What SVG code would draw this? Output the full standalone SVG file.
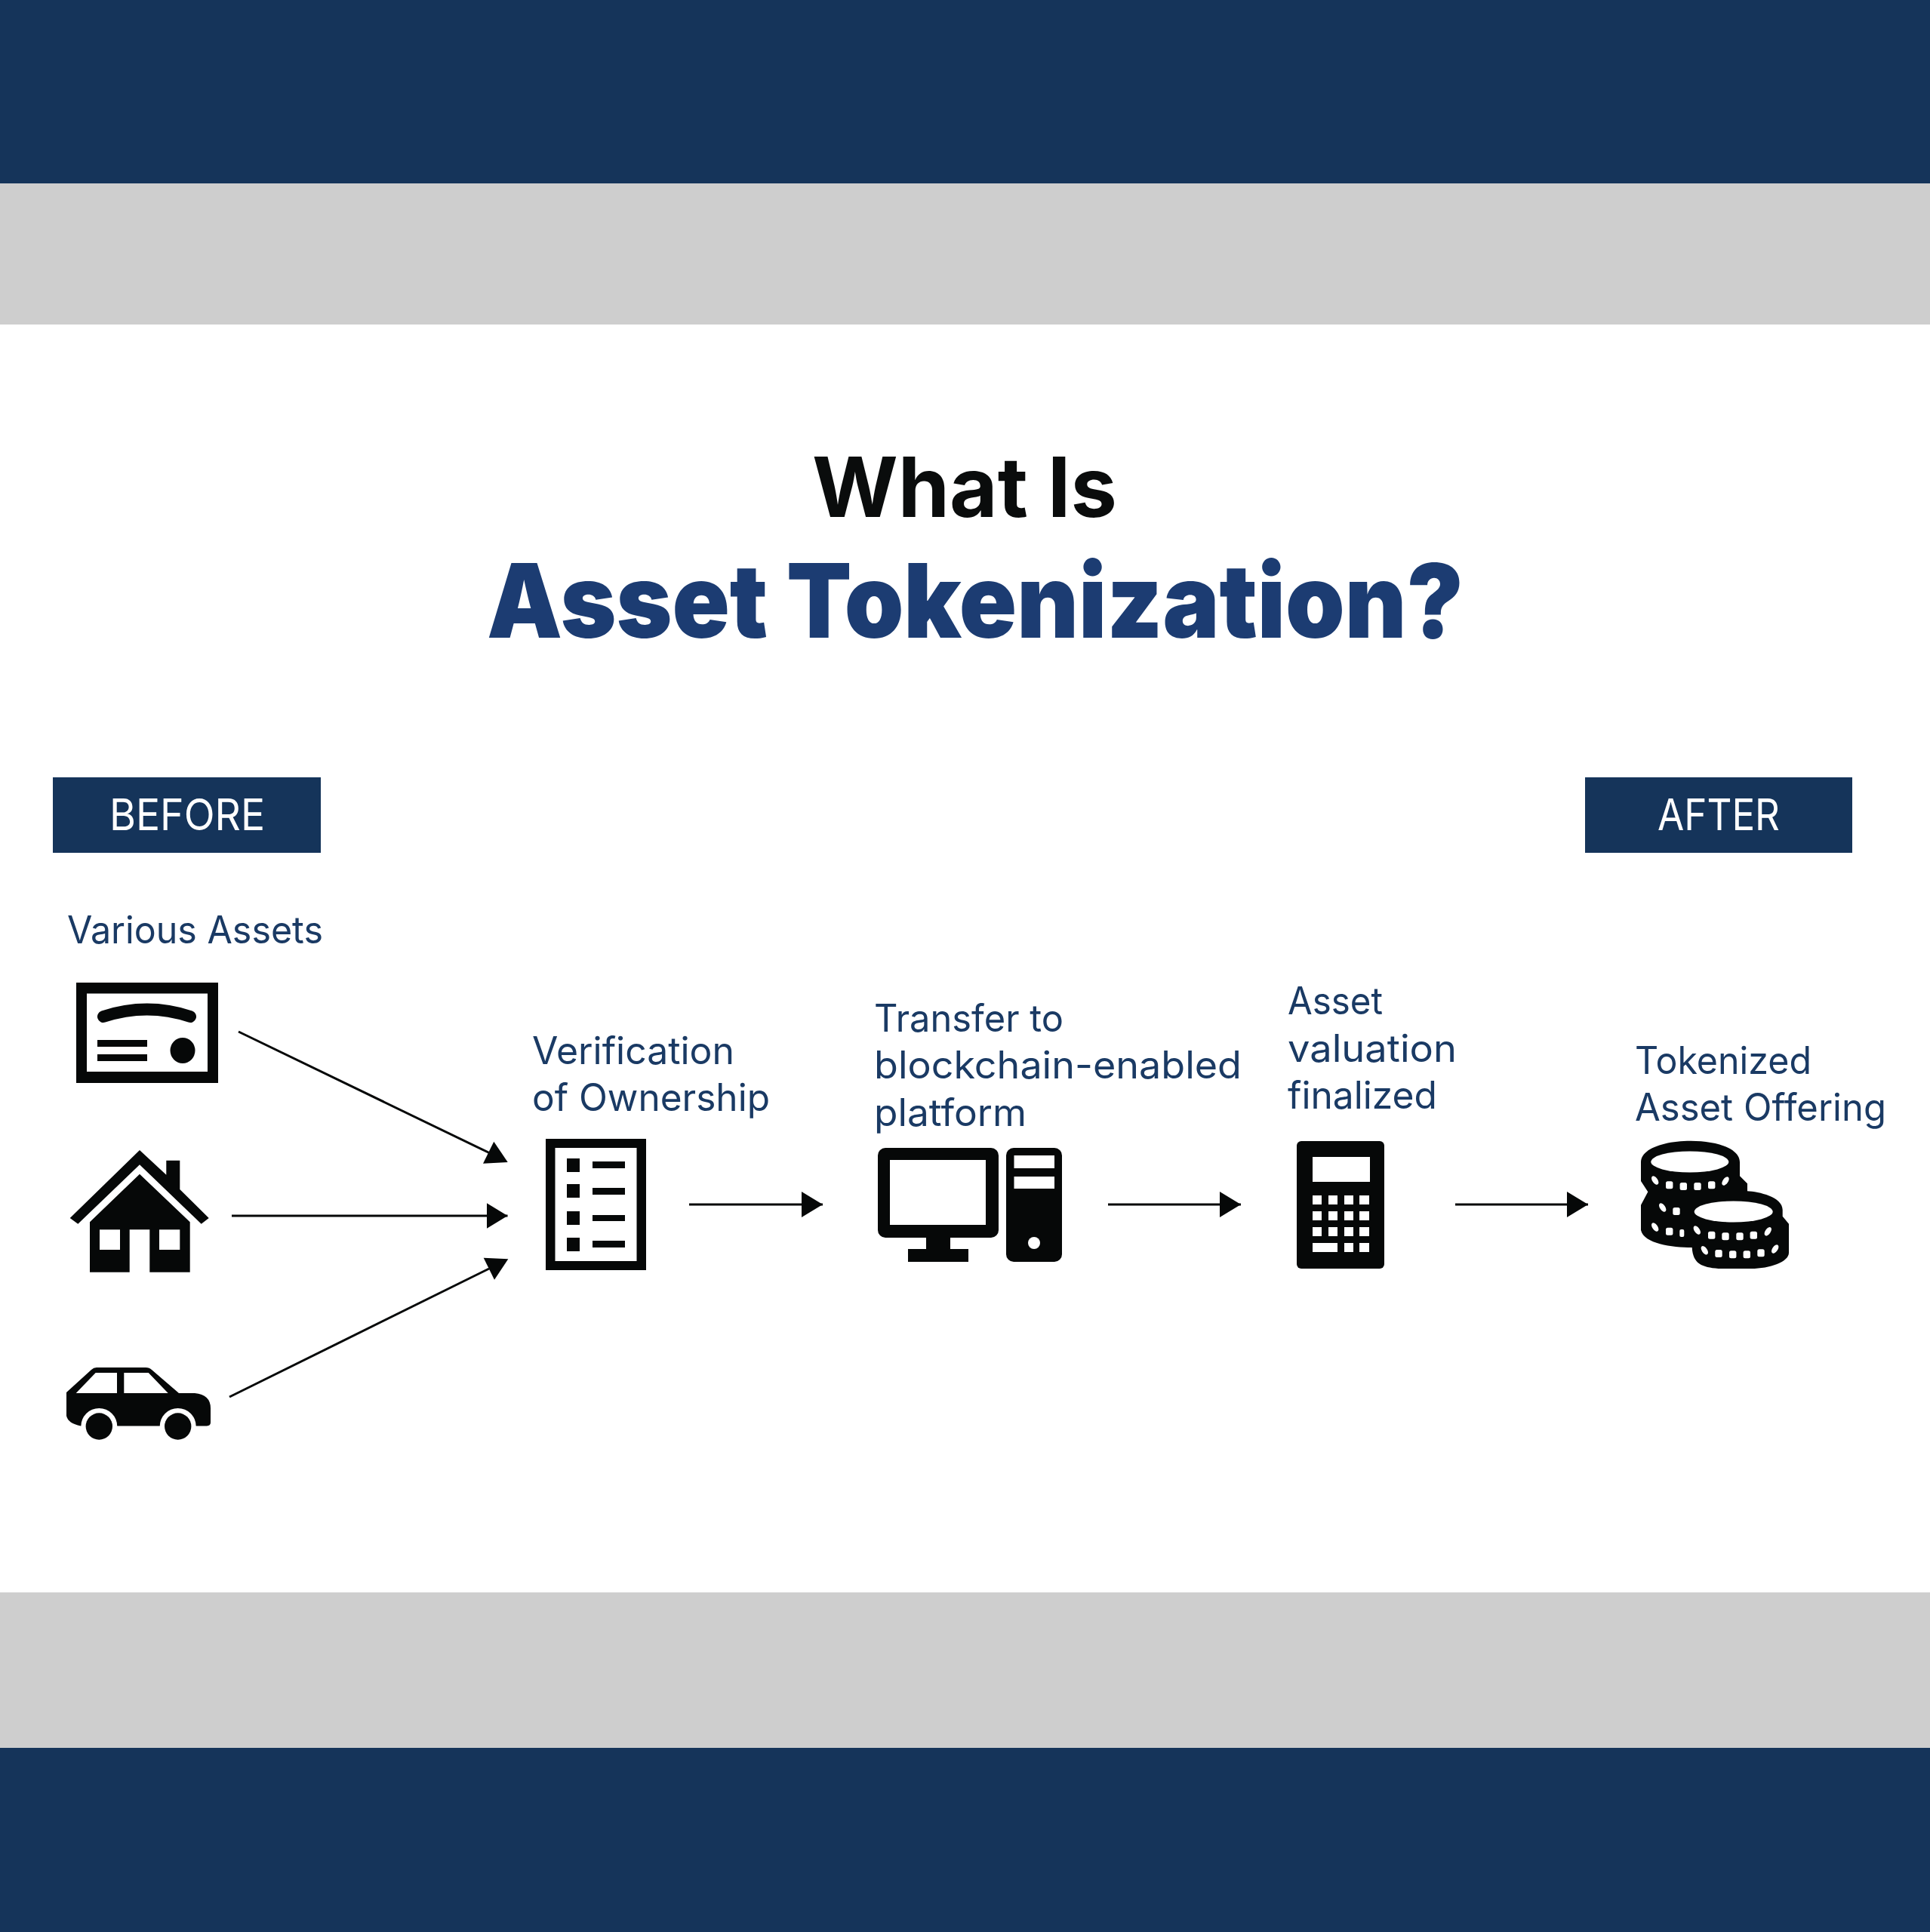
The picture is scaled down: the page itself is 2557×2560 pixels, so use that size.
<svg xmlns="http://www.w3.org/2000/svg" width="2557" height="2560" viewBox="0 0 2557 2560">
<style>
.navy{fill:#15345a}.gray{fill:#cecece}.k{fill:#060808}.w{fill:#fff}
text{font-family:"Inter","Liberation Sans",sans-serif}
.lbl{font-size:50px;fill:#1a3a64;font-weight:400}
.tag{font-size:57px;fill:#fff;font-weight:400}
.ln{stroke:#060808;stroke-width:3;fill:none}
</style>
<defs>
<marker id="ah" markerUnits="userSpaceOnUse" markerWidth="30" markerHeight="36" refX="28" refY="17" orient="auto"><path d="M0 0L28 17L0 34Z" fill="#060808"/></marker>
<rect id="t" x="-4.700" y="-5" width="9.400" height="10" rx="2.500" fill="#fff"/>
<rect id="n" x="-3" y="-5" width="6" height="10" rx="2" fill="#fff"/>
<ellipse id="l" rx="3.500" ry="6.500" transform="rotate(-35)" fill="#fff"/>
<ellipse id="r" rx="3.500" ry="6.500" transform="rotate(35)" fill="#fff"/>
</defs>
<g id="bands">
<rect class="navy" x="0" y="0" width="2557" height="243"/>
<rect class="gray" x="0" y="243" width="2557" height="187"/>
<rect class="gray" x="0" y="2110" width="2557" height="206"/>
<rect class="navy" x="0" y="2316" width="2557" height="244"/>
</g>
<g id="title">
<text x="1076" y="685" font-size="110" font-weight="700" fill="#0a0c0c" textLength="404" lengthAdjust="spacingAndGlyphs">What Is</text>
<text x="645" y="845" font-size="136" font-weight="900" fill="#1c3c72" textLength="1294" lengthAdjust="spacingAndGlyphs">Asset Tokenization?</text>
</g>
<g id="node-before">
<rect class="navy" x="70" y="1030" width="355" height="100"/>
<text class="tag" x="145" y="1100" textLength="206" lengthAdjust="spacingAndGlyphs">BEFORE</text>
</g>
<g id="node-after">
<rect class="navy" x="2100" y="1030" width="354" height="100"/>
<text class="tag" x="2196" y="1100" textLength="162" lengthAdjust="spacingAndGlyphs">AFTER</text>
</g>
<g id="node-assets">
<text class="lbl" x="89" y="1250" textLength="339" lengthAdjust="spacingAndGlyphs">Various Assets</text>
</g>
<g id="icon-certificate">
<rect class="k" x="101" y="1302" width="188" height="133"/>
<rect class="w" x="115" y="1316.500" width="160" height="103.500"/>
<path d="M137 1347Q195 1328 252 1347" fill="none" stroke="#060808" stroke-width="16" stroke-linecap="round"/>
<rect class="k" x="129" y="1378" width="66" height="9"/>
<rect class="k" x="129" y="1397" width="66" height="9"/>
<ellipse class="k" cx="242" cy="1392" rx="16.500" ry="17"/>
</g>
<g id="icon-house">
<path class="k" d="M185 1524L220.300 1556.700V1537.700H238.300V1576L276.700 1614L266.700 1621.700L185 1543.300L103.300 1621.700L92.700 1614Z"/>
<path class="k" d="M185 1555.700L251.700 1619.300V1685.700H198.300V1629.300H171.700V1685.700H119V1619.300Z"/>
<rect class="w" x="132" y="1629.300" width="27" height="26.700"/>
<rect class="w" x="211" y="1629.300" width="27.300" height="26.700"/>
</g>
<g id="icon-car">
<path class="k" d="M88 1845L121 1815Q124 1812 128 1812H193Q198 1812 201 1815L237 1846H258Q279 1848 279 1866V1885Q279 1889 274 1889.500H107Q90 1886 88 1876Z"/>
<path class="w" d="M100.700 1846L126.700 1819H155V1846ZM164.300 1819H196.700L222.700 1846H164.300Z"/>
<circle class="w" cx="131.300" cy="1890" r="24"/>
<circle class="w" cx="235.700" cy="1890" r="24"/>
<circle class="k" cx="131.300" cy="1890" r="17.700"/>
<circle class="k" cx="235.700" cy="1890" r="17.700"/>
</g>
<g id="node-verification">
<text class="lbl" x="705" y="1410" textLength="268" lengthAdjust="spacingAndGlyphs">Verification</text>
<text class="lbl" x="705" y="1472" textLength="315" lengthAdjust="spacingAndGlyphs">of Ownership</text>
<rect class="k" x="723" y="1509" width="133" height="174"/>
<rect class="w" x="735.500" y="1521" width="108" height="150"/>
<path class="k" d="M751 1535h17v18h-17zM751 1569h17v18h-17zM751 1605h17v18h-17zM751 1640h17v18h-17zM785 1539h43v9h-43zM785 1574h43v9h-43zM785 1610h43v8h-43zM785 1644h43v9h-43z"/>
</g>
<g id="node-platform">
<text class="lbl" x="1158" y="1367" textLength="251" lengthAdjust="spacingAndGlyphs">Transfer to</text>
<text class="lbl" x="1158" y="1429" textLength="487" lengthAdjust="spacingAndGlyphs">blockchain-enabled</text>
<text class="lbl" x="1158" y="1492" textLength="202" lengthAdjust="spacingAndGlyphs">platform</text>
<rect class="k" x="1163" y="1521" width="160" height="119" rx="10"/>
<rect class="w" x="1179" y="1537" width="127" height="86"/>
<rect class="k" x="1227" y="1640" width="32" height="16"/>
<rect class="k" x="1203" y="1655" width="80" height="17"/>
<rect class="k" x="1333" y="1521" width="74" height="151" rx="10"/>
<rect class="w" x="1343.500" y="1531" width="53.500" height="17"/>
<rect class="w" x="1343.500" y="1559" width="53.500" height="16"/>
<ellipse class="w" cx="1370" cy="1647" rx="8" ry="8"/>
</g>
<g id="node-valuation">
<text class="lbl" x="1706" y="1344" textLength="126" lengthAdjust="spacingAndGlyphs">Asset</text>
<text class="lbl" x="1706" y="1407" textLength="224" lengthAdjust="spacingAndGlyphs">valuation</text>
<text class="lbl" x="1706" y="1469" textLength="198" lengthAdjust="spacingAndGlyphs">finalized</text>
<rect class="k" x="1718" y="1512" width="116" height="169" rx="6"/>
<rect class="w" x="1739" y="1533" width="76" height="33"/>
<path class="w" d="M1739 1584h12v12h-12zM1760 1584h12v12h-12zM1781 1584h12v12h-12zM1801 1584h13v12h-13zM1739 1605h12v12h-12zM1760 1605h12v12h-12zM1781 1605h12v12h-12zM1801 1605h13v12h-13zM1739 1626h12v12h-12zM1760 1626h12v12h-12zM1781 1626h12v12h-12zM1801 1626h13v12h-13zM1739 1647h33v12h-33zM1781 1647h12v12h-12zM1801 1647h13v12h-13z"/>
</g>
<g id="node-offering">
<text class="lbl" x="2166" y="1423" textLength="234" lengthAdjust="spacingAndGlyphs">Tokenized</text>
<text class="lbl" x="2166" y="1485" textLength="333" lengthAdjust="spacingAndGlyphs">Asset Offering</text>
<path class="k" d="M2174 1540C2174 1522 2205 1511.700 2240 1511.700C2275 1511.700 2305 1522 2305 1540V1558.300L2315 1568.300V1578.300C2330 1579 2361.700 1586 2361.700 1603V1611.700L2370 1621.700V1660C2370 1672 2345 1681 2320 1681H2276.700C2255 1679 2243 1675 2241.700 1653C2215 1653 2178 1648 2174 1630V1596.700L2183.300 1579.300L2174 1565Z"/>
<ellipse class="w" cx="2238.800" cy="1539.500" rx="51.500" ry="14"/>
<ellipse class="w" cx="2296.700" cy="1605.500" rx="52" ry="14"/>
<use href="#l" x="2192.700" y="1564"/><use href="#t" x="2211.700" y="1570.300"/><use href="#t" x="2230.300" y="1572"/><use href="#t" x="2249" y="1572"/><use href="#t" x="2267.700" y="1570.300"/><use href="#r" x="2286" y="1565"/>
<use href="#l" x="2202.700" y="1600"/><use href="#t" x="2221" y="1605"/>
<use href="#l" x="2192.700" y="1626"/><use href="#t" x="2211.700" y="1631.700"/><use href="#n" x="2228.300" y="1634"/>
<use href="#l" x="2248.300" y="1630"/><use href="#t" x="2267.700" y="1636.700"/><use href="#t" x="2286" y="1638.300"/><use href="#t" x="2305" y="1638.300"/><use href="#t" x="2323.300" y="1636.700"/><use href="#r" x="2342.300" y="1631.700"/>
<use href="#l" x="2258.300" y="1656.700"/><use href="#t" x="2277" y="1661"/><use href="#t" x="2295.700" y="1662.300"/><use href="#t" x="2314.300" y="1662.300"/><use href="#t" x="2333" y="1660.300"/><use href="#r" x="2351.700" y="1655"/>
</g>
<g id="connectors">
<line class="ln" x1="316" y1="1367" x2="648" y2="1527.500"/>
<path class="k" d="M654.300 1512.700L672.700 1540L640 1541.700Z"/>
<line class="ln" x1="307" y1="1611" x2="672.500" y2="1611" marker-end="url(#ah)"/>
<line class="ln" x1="304" y1="1851" x2="648" y2="1681"/>
<path class="k" d="M640.700 1666.700L673.300 1668.300L655 1695.700Z"/>
<line class="ln" x1="913" y1="1596" x2="1090" y2="1596" marker-end="url(#ah)"/>
<line class="ln" x1="1468" y1="1596" x2="1644" y2="1596" marker-end="url(#ah)"/>
<line class="ln" x1="1928" y1="1596" x2="2104" y2="1596" marker-end="url(#ah)"/>
</g>
</svg>
